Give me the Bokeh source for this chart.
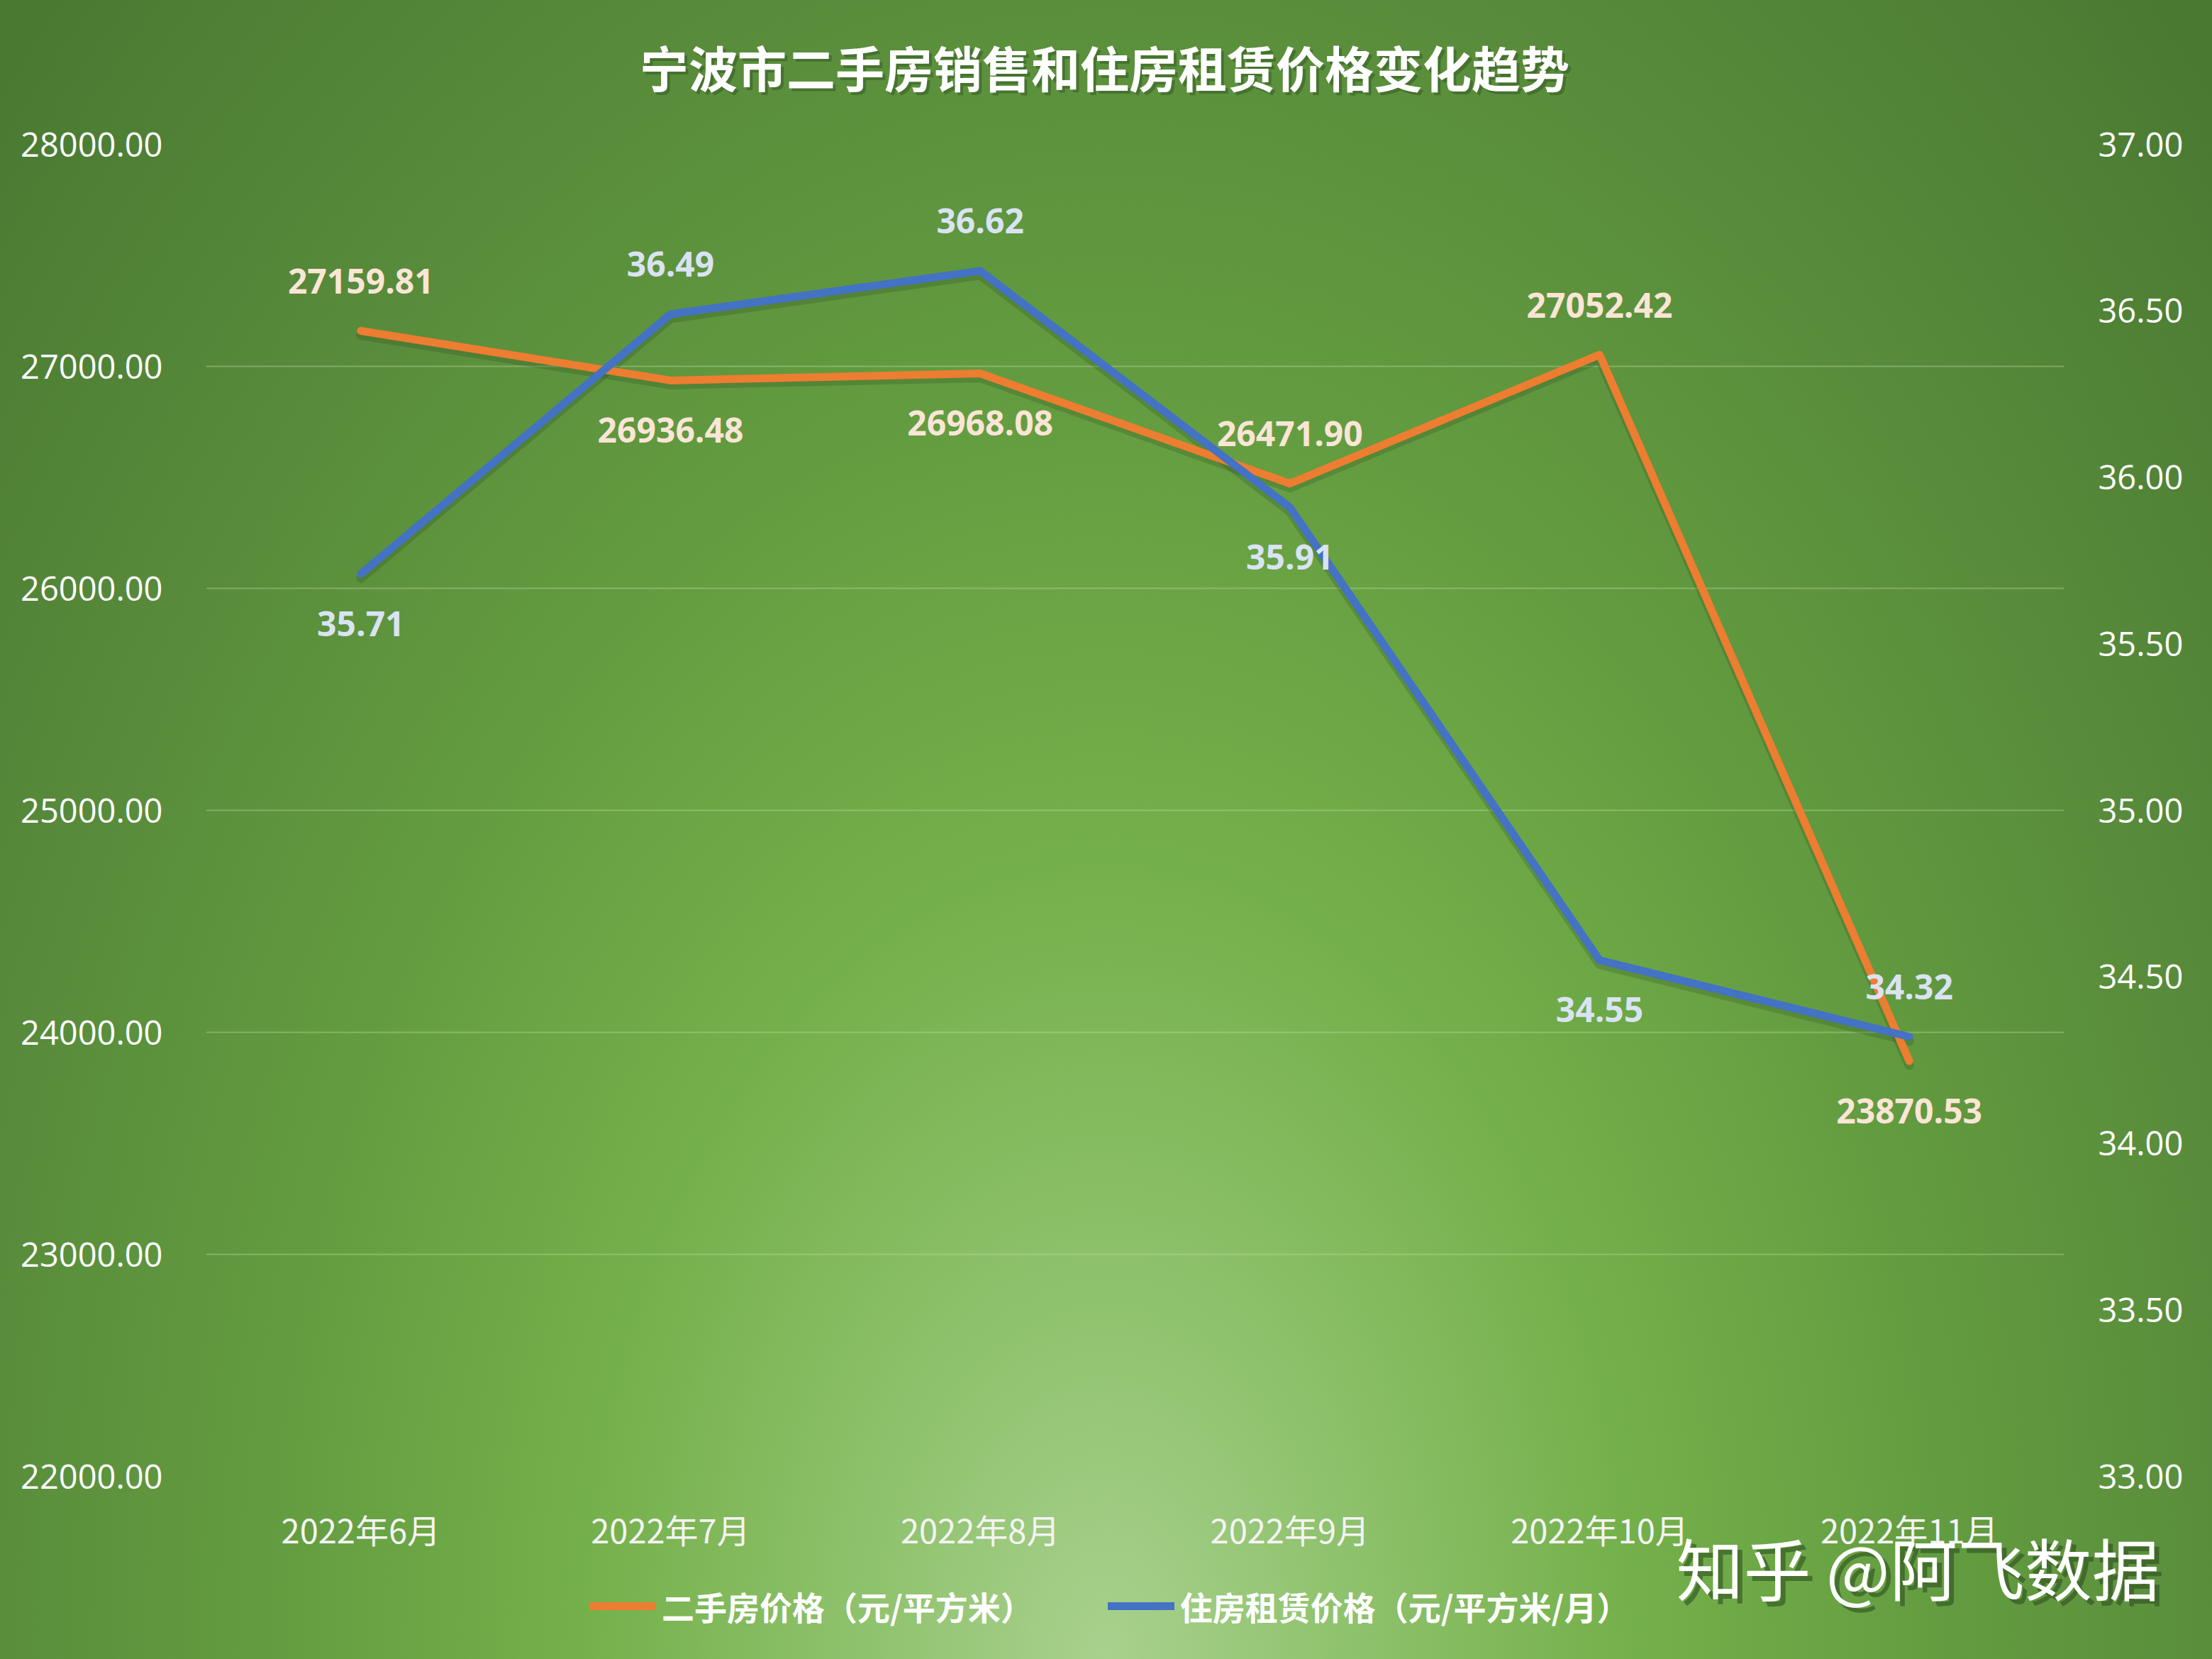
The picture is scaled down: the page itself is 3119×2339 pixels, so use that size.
from bokeh.plotting import figure
from bokeh.layouts import column
from bokeh.models import (Range1d, LinearAxis, FixedTicker, NumeralTickFormatter,
                          ColumnDataSource, LabelSet, Label, Legend, LegendItem)
from bokeh.core.properties import value
from bokeh.embed import file_html
from bokeh.resources import INLINE

# ---------------- data ----------------
months = ["2022年6月", "2022年7月", "2022年8月", "2022年9月", "2022年10月", "2022年11月"]
resale_price = [27159.81, 26936.48, 26968.08, 26471.90, 27052.42, 23870.53]
rent_price = [35.71, 36.49, 36.62, 35.91, 34.55, 34.32]
left_ticks = [22000, 23000, 24000, 25000, 26000, 27000, 28000]
right_ticks = [33.0, 33.5, 34.0, 34.5, 35.0, 35.5, 36.0, 36.5, 37.0]
title_text = "宁波市二手房销售和住房租赁价格变化趋势"
resale_name = "二手房价格（元/平方米）"
rent_name = "住房租赁价格（元/平方米/月）"
watermark = "知乎 @阿飞数据"

# label placement (layout only)
resale_side = [1, -1, -1, 1, 1, -1]
rent_side = [-1, 1, 1, -1, -1, 1]

ORANGE = "#ED7D31"
BLUE = "#4472C4"
W, H = 3119, 2339
FL, FR, FT, FB = 290, 209, 203, 258
LEFT_LO, LEFT_HI = 22000, 28000
RIGHT_LO, RIGHT_HI = 33, 37
FH = H - FT - FB

# ---------------- main chart ----------------
p = figure(width=W, height=H, x_range=months, y_range=Range1d(LEFT_LO, LEFT_HI),
           output_backend="svg", toolbar_location=None,
           min_border_left=FL, min_border_right=FR, min_border_top=FT, min_border_bottom=FB)
p.x_range.range_padding = 0
p.extra_y_ranges = {"rent": Range1d(RIGHT_LO, RIGHT_HI)}
p.background_fill_color = None
p.border_fill_color = None
p.outline_line_color = None
p.styles = {"background-image": "radial-gradient(ellipse 1650px 2500px at 50% 100%, "
            "#a9d18e 0%, #92c471 18%, #74b04a 45%, #639c40 72%, #578a3a 100%, #4a7a32 130%)"}

p.xgrid.grid_line_color = None
p.ygrid.ticker = FixedTicker(ticks=left_ticks)
p.ygrid.grid_line_color = "#c8e6b4"
p.ygrid.grid_line_alpha = 0.35
p.ygrid.grid_line_width = 2

def style_axis(ax, standoff):
    ax.axis_line_color = None
    ax.major_tick_line_color = None
    ax.minor_tick_line_color = None
    ax.major_tick_in = 0
    ax.major_tick_out = 0
    ax.major_label_standoff = standoff
    ax.major_label_text_color = "#ffffff"
    ax.major_label_text_font_size = "47px"

style_axis(p.yaxis[0], 61)
p.yaxis[0].ticker = FixedTicker(ticks=left_ticks)
p.yaxis[0].formatter = NumeralTickFormatter(format="0.00")
p.yaxis[0].major_label_text_font = "Open Sans"

style_axis(p.xaxis[0], 39)
p.xaxis[0].major_label_text_font = "Noto Sans CJK SC"
p.xaxis[0].major_label_text_font_size = "47px"
p.xaxis[0].major_label_text_color = "#f4f4f4"

ax_r = LinearAxis(y_range_name="rent", ticker=FixedTicker(ticks=right_ticks),
                  formatter=NumeralTickFormatter(format="0.00"))
style_axis(ax_r, 48)
ax_r.major_label_text_font = "Open Sans"
p.add_layout(ax_r, "right")

# soft shadows under the lines
SH = 6
left_per_px = (LEFT_HI - LEFT_LO) / FH
right_per_px = (RIGHT_HI - RIGHT_LO) / FH
p.line(months, [v - SH * left_per_px for v in resale_price], line_color="#24401a",
       line_alpha=0.22, line_width=13, line_join="round", line_cap="round")
p.line(months, [v - SH * right_per_px for v in rent_price], line_color="#24401a",
       line_alpha=0.22, line_width=13, line_join="round", line_cap="round", y_range_name="rent")

p.line(months, resale_price, line_color=ORANGE, line_width=11,
       line_join="round", line_cap="round")
p.line(months, rent_price, line_color=BLUE, line_width=11,
       line_join="round", line_cap="round", y_range_name="rent")

src1 = ColumnDataSource(dict(x=months, y=resale_price, t=["%.2f" % v for v in resale_price],
                             off=[70 * s for s in resale_side]))
src2 = ColumnDataSource(dict(x=months, y=rent_price, t=["%.2f" % v for v in rent_price],
                             off=[70 * s for s in rent_side]))
p.add_layout(LabelSet(x="x", y="y", text="t", source=src1, y_offset="off",
                      text_align="center", text_baseline="middle",
                      text_font=value("Open Sans"), text_font_style="bold",
                      text_font_size="48px", text_color="#FBE5D6"))
p.add_layout(LabelSet(x="x", y="y", text="t", source=src2, y_offset="off", y_range_name="rent",
                      text_align="center", text_baseline="middle",
                      text_font=value("Open Sans"), text_font_style="bold",
                      text_font_size="48px", text_color="#DAE3F3"))

# ---------------- overlay: title, legend, watermark ----------------
# The overlay's frame is aligned to the main frame; shifting the overlay right by SHIFT
# lets its frame cover the watermark, which reaches past the right axis.
SHIFT = 150
OV_L, OV_R = FL + SHIFT, W - FR + SHIFT
ov = figure(width=W, height=H, x_range=Range1d(OV_L, OV_R), y_range=Range1d(H, 0),
            output_backend="svg", toolbar_location=None, min_border=0,
            x_axis_location=None, y_axis_location=None)
ov.grid.visible = False
ov.outline_line_color = None
ov.background_fill_color = None
ov.border_fill_color = None
ov.styles = {"position": "absolute", "top": "0px", "left": "%dpx" % SHIFT}

def text_label(x, y, text, size, bold, color, alpha=1.0, align="center"):
    ov.add_layout(Label(x=x, y=y, text=text, text_align=align, text_baseline="middle",
                        text_font="Noto Sans CJK SC", text_font_style="bold" if bold else "normal",
                        text_font_size=size, text_color=color, text_alpha=alpha))

text_label(1557 + 4, 93 + 4, title_text, "69px", True, "#2f4f22", 0.45)
text_label(1557, 93, title_text, "69px", True, "#ffffff")
text_label(2363 + 7, 2208 + 7, watermark, "95px", False, "#2f4f22", 0.6, "left")
text_label(2363, 2208, watermark, "95px", False, "#ffffff", 1.0, "left")

nan = float("nan")
k1 = ov.line([nan], [nan], line_color=ORANGE, line_width=11, line_cap="round")
k2 = ov.line([nan], [nan], line_color=BLUE, line_width=11, line_cap="round")
legend = Legend(items=[LegendItem(label=resale_name, renderers=[k1]),
                       LegendItem(label=rent_name, renderers=[k2])],
                orientation="horizontal", location=(831 - OV_L, H - 2267 - 30),
                glyph_width=94, glyph_height=46, label_standoff=8, spacing=105,
                padding=0, margin=0, border_line_color=None, background_fill_alpha=0,
                label_text_font="Noto Sans CJK SC", label_text_font_style="bold",
                label_text_font_size="46px", label_text_color="#ffffff",
                label_height=46)
ov.add_layout(legend, "center")

layout = column(p, ov, width=W, height=H)
layout.styles = {"overflow": "hidden"}
open("out.html", "w").write(file_html(layout, INLINE))
